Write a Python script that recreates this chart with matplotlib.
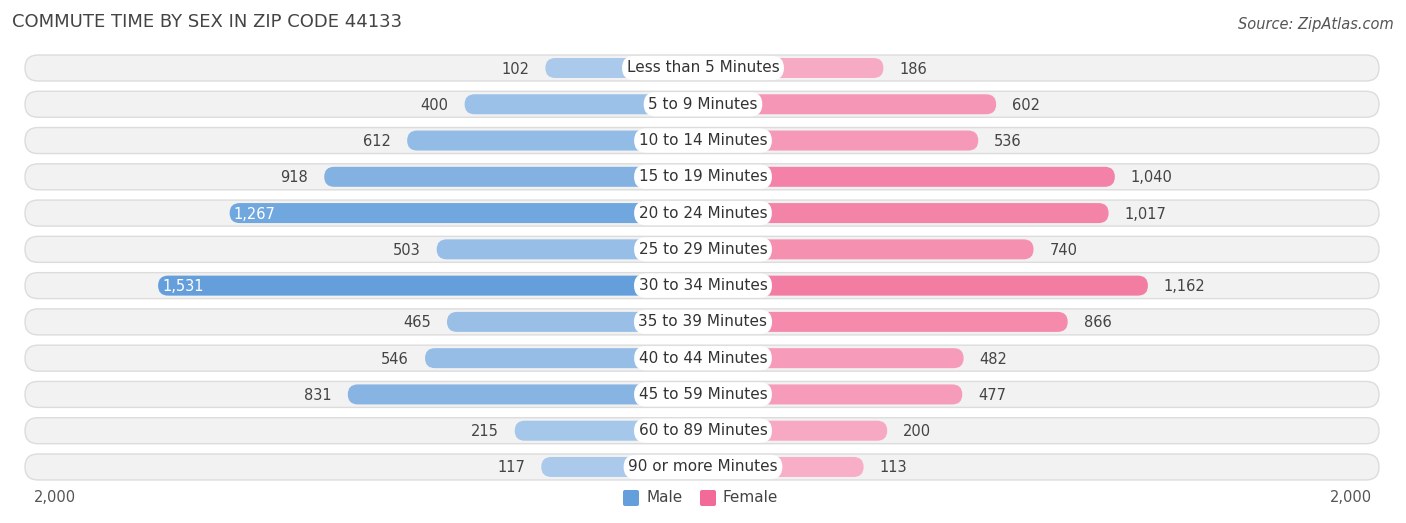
import matplotlib.pyplot as plt
from matplotlib.patches import FancyBboxPatch
import numpy as np

categories = ["Less than 5 Minutes", "5 to 9 Minutes", "10 to 14 Minutes", "15 to 19 Minutes",
              "20 to 24 Minutes", "25 to 29 Minutes", "30 to 34 Minutes", "35 to 39 Minutes",
              "40 to 44 Minutes", "45 to 59 Minutes", "60 to 89 Minutes", "90 or more Minutes"]
male = [102, 400, 612, 918, 1267, 503, 1531, 465, 546, 831, 215, 117]
female = [186, 602, 536, 1040, 1017, 740, 1162, 866, 482, 477, 200, 113]

W, H = 1406, 523
fig = plt.figure(figsize=(W / 100, H / 100), dpi=100)
ax = fig.add_axes([0, 0, 1, 1])
ax.set_xlim(0, W)
ax.set_ylim(H, 0)
ax.axis("off")

cx = 703
off = 140          # half-width reserved for the centre label
scale = 0.271      # px per unit
y0, step = 68, 36.27
bh = 20

def mix(c1, c2, t):
    c1 = np.array([int(c1[i:i + 2], 16) for i in (1, 3, 5)]) / 255
    c2 = np.array([int(c2[i:i + 2], 16) for i in (1, 3, 5)]) / 255
    return tuple(c1 + (c2 - c1) * t)

vmax = max(max(male), max(female))
for i, cat in enumerate(categories):
    y = y0 + i * step
    ax.add_patch(FancyBboxPatch((12 + 13, y - 13), 1380 - 26, 26,
                                boxstyle="round,pad=0,rounding_size=13",
                                fc="#f2f2f2", ec="#dcdcdc", lw=1))
    m, f = male[i], female[i]
    mw = off + m * scale
    fw = off + f * scale
    mc = mix("#b0cdec", "#649fdc", m / vmax)
    fc = mix("#f8b3ca", "#f26a97", f / vmax)
    ax.add_patch(FancyBboxPatch((cx - mw + 10, y - bh / 2), mw - 10, bh,
                                boxstyle="round,pad=0,rounding_size=10", fc=mc, ec="none"))
    ax.add_patch(FancyBboxPatch((cx, y - bh / 2), fw - 10, bh,
                                boxstyle="round,pad=0,rounding_size=10", fc=fc, ec="none"))
    ax.text(cx, y, cat, ha="center", va="center", fontsize=11, color="#333",
            bbox=dict(boxstyle="round,pad=0.3,rounding_size=0.8", fc="white", ec="none"))
    if m > 1200:
        ax.text(cx - mw + 14, y + 1, f"{m:,}", ha="left", va="center", fontsize=10.5, color="white")
    else:
        ax.text(cx - mw - 6, y + 1, f"{m:,}", ha="right", va="center", fontsize=10.5, color="#444")
    if f > 1200:
        ax.text(cx + fw - 14, y + 1, f"{f:,}", ha="right", va="center", fontsize=10.5, color="white")
    else:
        ax.text(cx + fw + 6, y + 1, f"{f:,}", ha="left", va="center", fontsize=10.5, color="#444")

ax.text(12, 22, "COMMUTE TIME BY SEX IN ZIP CODE 44133", fontsize=13, color="#444", va="center")
ax.text(1394, 24, "Source: ZipAtlas.com", fontsize=10.5, color="#555", style="italic",
        ha="right", va="center")
ax.text(55, 498, "2,000", fontsize=10.5, color="#555", ha="center", va="center")
ax.text(1351, 498, "2,000", fontsize=10.5, color="#555", ha="center", va="center")

ax.add_patch(FancyBboxPatch((623, 490), 16, 16, boxstyle="round,pad=0,rounding_size=2",
                            fc="#649fdc", ec="none"))
ax.text(646, 498, "Male", fontsize=11, color="#444", va="center")
ax.add_patch(FancyBboxPatch((700, 490), 16, 16, boxstyle="round,pad=0,rounding_size=2",
                            fc="#f26a97", ec="none"))
ax.text(723, 498, "Female", fontsize=11, color="#444", va="center")

fig.savefig("out.png", dpi=100)
